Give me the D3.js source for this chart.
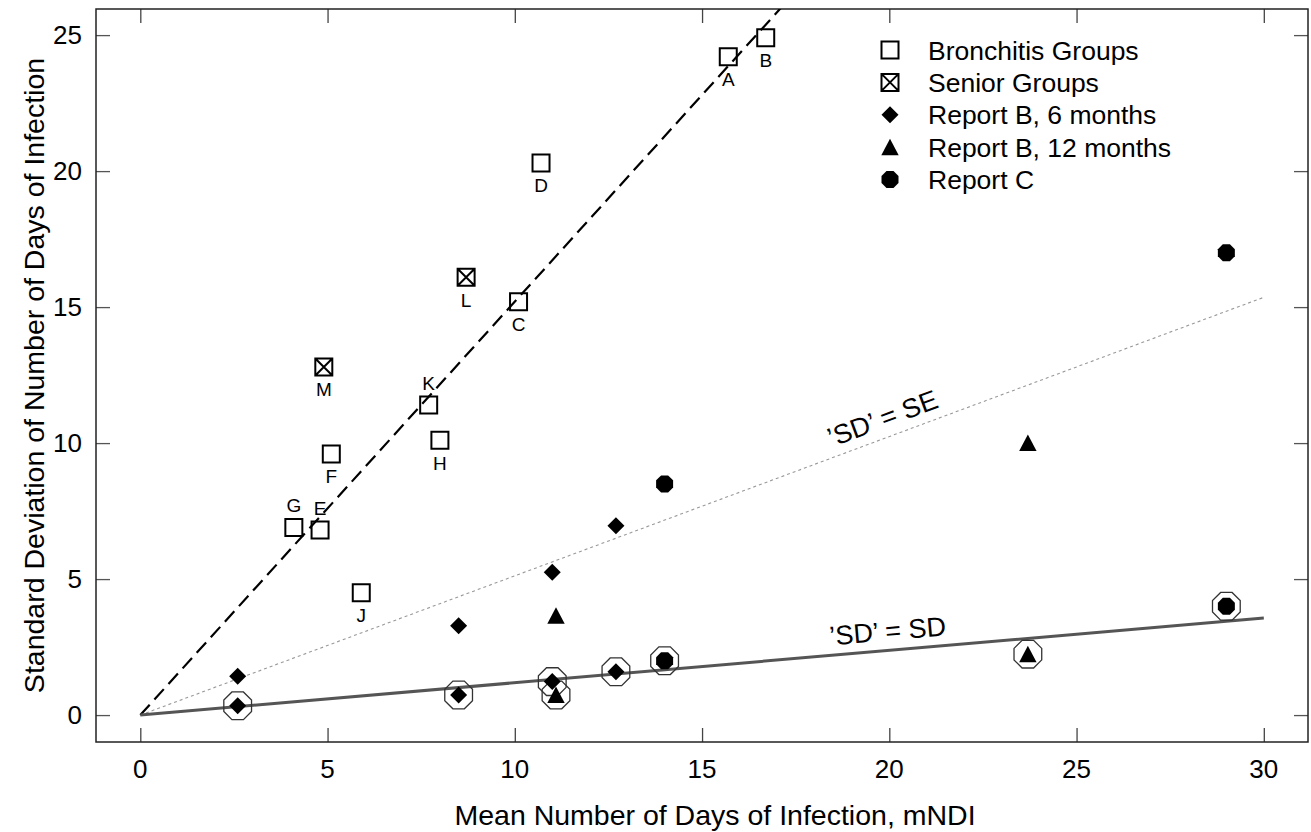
<!DOCTYPE html>
<html>
<head>
<meta charset="utf-8">
<script src="https://cdn.jsdelivr.net/npm/d3@7"></script>
<style>
  html, body { margin: 0; padding: 0; background: #fff; }
  svg { display: block; font-family: "Liberation Sans", Arial, Helvetica, sans-serif; }
</style>
</head>
<body>
<svg id="chart" width="1311" height="832"></svg>
<script>
// ---------------- data ----------------
const bronchitisLabels = ["A", "B", "C", "D", "E", "F", "G", "H", "J", "K"];
const bronchitisMean   = [15.7, 16.7, 10.1, 10.7, 4.8, 5.1, 4.1, 8.0, 5.9, 7.7];
const bronchitisSD     = [24.2, 24.9, 15.2, 20.3, 6.8, 9.6, 6.9, 10.1, 4.5, 11.4];

const seniorLabels = ["L", "M"];
const seniorMean   = [8.7, 4.9];
const seniorSD     = [16.1, 12.8];

const labelsAbove = ["E", "G", "K"];

// Report B, 6 months: 'SD' as reported (= SE) and true SD (ringed)
const reportB6Mean = [2.6, 8.5, 11.0, 12.7];
const reportB6SE   = [1.43, 3.28, 5.25, 6.96];
const reportB6SD   = [0.34, 0.74, 1.23, 1.59];

// Report B, 12 months
const reportB12Mean = [11.1, 23.7];
const reportB12SE   = [3.65, 10.0];
const reportB12SD   = [0.74, 2.24];

// Report C
const reportCMean = [14.0, 29.0];
const reportCSE   = [8.5, 17.0];
const reportCSD   = [2.0, 4.0];

// reference lines through the origin (slopes)
const slopeDashed = 1.52;
const slopeSE = 0.512;
const slopeSD = 0.119;
const lineEndX = 30;

const xTicks = [0, 5, 10, 15, 20, 25, 30];
const yTicks = [0, 5, 10, 15, 20, 25];

const legendItems = ["Bronchitis Groups", "Senior Groups", "Report B, 6 months", "Report B, 12 months", "Report C"];

// ---------------- layout ----------------
const svg = d3.select("#chart");
const L = 96, T = 9, R = 1308, B = 742;
const x = d3.scaleLinear().domain([-1.183, 31.18]).range([L, R]);
const y = d3.scaleLinear().domain([-0.99, 25.96]).range([B, T]);

// clip
svg.append("clipPath").attr("id", "clip")
  .append("rect").attr("x", L).attr("y", T).attr("width", R - L).attr("height", B - T);

// axes (inward ticks on all sides)
const tickLen = 14;
const gx = svg.append("g").attr("transform", `translate(0,${B})`);
gx.call(d3.axisTop(x).tickValues(xTicks).tickSize(tickLen).tickFormat(""));
gx.select(".domain").remove();
gx.selectAll("line").attr("stroke", "#444").attr("stroke-width", 1.3);

const gxt = svg.append("g").attr("transform", `translate(0,${T})`);
gxt.call(d3.axisBottom(x).tickValues(xTicks).tickSize(tickLen).tickFormat(""));
gxt.select(".domain").remove();
gxt.selectAll("line").attr("stroke", "#444").attr("stroke-width", 1.3);

const gy = svg.append("g").attr("transform", `translate(${L},0)`);
gy.call(d3.axisRight(y).tickValues(yTicks).tickSize(tickLen).tickFormat(""));
gy.select(".domain").remove();
gy.selectAll("line").attr("stroke", "#555").attr("stroke-width", 1.3);

const gyr = svg.append("g").attr("transform", `translate(${R},0)`);
gyr.call(d3.axisLeft(y).tickValues(yTicks).tickSize(tickLen).tickFormat(""));
gyr.select(".domain").remove();
gyr.selectAll("line").attr("stroke", "#555").attr("stroke-width", 1.3);

// tick labels
svg.append("g").selectAll("text").data(xTicks).join("text")
  .attr("x", d => x(d)).attr("y", 778)
  .attr("text-anchor", "middle").attr("font-size", 26).attr("fill", "#000")
  .text(d => d);
svg.append("g").selectAll("text").data(yTicks).join("text")
  .attr("x", 82).attr("y", d => y(d) + 9.3)
  .attr("text-anchor", "end").attr("font-size", 26).attr("fill", "#000")
  .text(d => d);

// frame
svg.append("rect").attr("x", L).attr("y", T).attr("width", R - L).attr("height", B - T)
  .attr("fill", "none").attr("stroke", "#222").attr("stroke-width", 1.5);

// axis titles
svg.append("text").attr("x", 715).attr("y", 825).attr("text-anchor", "middle")
  .attr("font-size", 28.5).text("Mean Number of Days of Infection, mNDI");
svg.append("text").attr("transform", `translate(44,${(T + B) / 2}) rotate(-90)`)
  .attr("text-anchor", "middle").attr("font-size", 28.5)
  .text("Standard Deviation of Number of Days of Infection");

// reference lines
const plot = svg.append("g").attr("clip-path", "url(#clip)");
const line = d3.line().x(d => x(d[0])).y(d => y(d[1]));
plot.append("path").attr("d", line([[0, 0], [lineEndX, slopeSE * lineEndX]]))
  .attr("fill", "none").attr("stroke", "#999").attr("stroke-width", 1.1).attr("stroke-dasharray", "3,3");
plot.append("path").attr("d", line([[0, 0], [26 / slopeDashed + 1, slopeDashed * (26 / slopeDashed + 1)]]))
  .attr("fill", "none").attr("stroke", "#000").attr("stroke-width", 2.2).attr("stroke-dasharray", "14,7");
plot.append("path").attr("d", line([[0, 0], [lineEndX, slopeSD * lineEndX]]))
  .attr("fill", "none").attr("stroke", "#555").attr("stroke-width", 3);

// line labels
function lineLabel(slope, xv, txt) {
  const px = x(xv), py = y(slope * xv);
  const ang = Math.atan2(y(slope * 10) - y(0), x(10) - x(0)) * 180 / Math.PI;
  svg.append("text").attr("transform", `translate(${px},${py}) rotate(${ang})`)
    .attr("y", -10).attr("text-anchor", "middle").attr("font-size", 27).text(txt);
}
lineLabel(slopeSE, 20, "\u2019SD\u2019 = SE");
lineLabel(slopeSD, 20, "\u2019SD\u2019 = SD");

// ---------------- marker shapes ----------------
function octagon(r) {
  const pts = d3.range(8).map(k => {
    const a = Math.PI / 8 + k * Math.PI / 4;
    return [r * Math.cos(a), r * Math.sin(a)];
  });
  return "M" + pts.map(p => p.join(",")).join("L") + "Z";
}
const sq = 8.5;
const squarePath = `M${-sq},${-sq}H${sq}V${sq}H${-sq}Z`;
const xSquarePath = squarePath + `M${-sq},${-sq}L${sq},${sq}M${sq},${-sq}L${-sq},${sq}`;
const diamondPath = "M0,-8.5L8.5,0L0,8.5L-8.5,0Z";
const trianglePath = "M0,-8.5L8.7,8L-8.7,8Z";
const dotPath = octagon(9.2);
const ringPath = octagon(15);

function drawMarkers(g, xs, ys, path, style) {
  g.append("g").selectAll("path").data(xs.map((v, i) => [v, ys[i]])).join("path")
    .attr("transform", d => `translate(${x(d[0])},${y(d[1])})`)
    .attr("d", path)
    .attr("fill", style.fill).attr("stroke", style.stroke).attr("stroke-width", style.sw);
}

const pts = svg.append("g");
const solid = { fill: "#000", stroke: "none", sw: 0 };
const ring = { fill: "none", stroke: "#333", sw: 1.3 };
const open = { fill: "none", stroke: "#000", sw: 2 };

// rings around true-SD points
drawMarkers(pts, reportB6Mean, reportB6SD, ringPath, ring);
drawMarkers(pts, reportB12Mean, reportB12SD, ringPath, ring);
drawMarkers(pts, reportCMean, reportCSD, ringPath, ring);

drawMarkers(pts, bronchitisMean, bronchitisSD, squarePath, open);
drawMarkers(pts, seniorMean, seniorSD, xSquarePath, open);

drawMarkers(pts, reportB6Mean, reportB6SE, diamondPath, solid);
drawMarkers(pts, reportB6Mean, reportB6SD, diamondPath, solid);
drawMarkers(pts, reportB12Mean, reportB12SE, trianglePath, solid);
drawMarkers(pts, reportB12Mean, reportB12SD, trianglePath, solid);
drawMarkers(pts, reportCMean, reportCSE, dotPath, solid);
drawMarkers(pts, reportCMean, reportCSD, dotPath, solid);

// point labels
const lbls = bronchitisLabels.map((l, i) => [l, bronchitisMean[i], bronchitisSD[i]])
  .concat(seniorLabels.map((l, i) => [l, seniorMean[i], seniorSD[i]]));
pts.append("g").selectAll("text").data(lbls).join("text")
  .attr("x", d => x(d[1]))
  .attr("y", d => y(d[2]) + (labelsAbove.includes(d[0]) ? -15.5 : 29.5))
  .attr("text-anchor", "middle").attr("font-size", 19).text(d => d[0]);

// ---------------- legend ----------------
const legendPaths = [squarePath, xSquarePath, diamondPath, trianglePath, dotPath];
const legendStyles = [open, open, solid, solid, solid];
const lg = svg.append("g");
legendItems.forEach((t, i) => {
  const ly = 50 + i * 32.4;
  lg.append("path").attr("transform", `translate(890,${ly})`).attr("d", legendPaths[i])
    .attr("fill", legendStyles[i].fill).attr("stroke", legendStyles[i].stroke).attr("stroke-width", legendStyles[i].sw);
  lg.append("text").attr("x", 928).attr("y", ly + 9.5).attr("font-size", 26.5).text(t);
});
</script>
</body>
</html>
